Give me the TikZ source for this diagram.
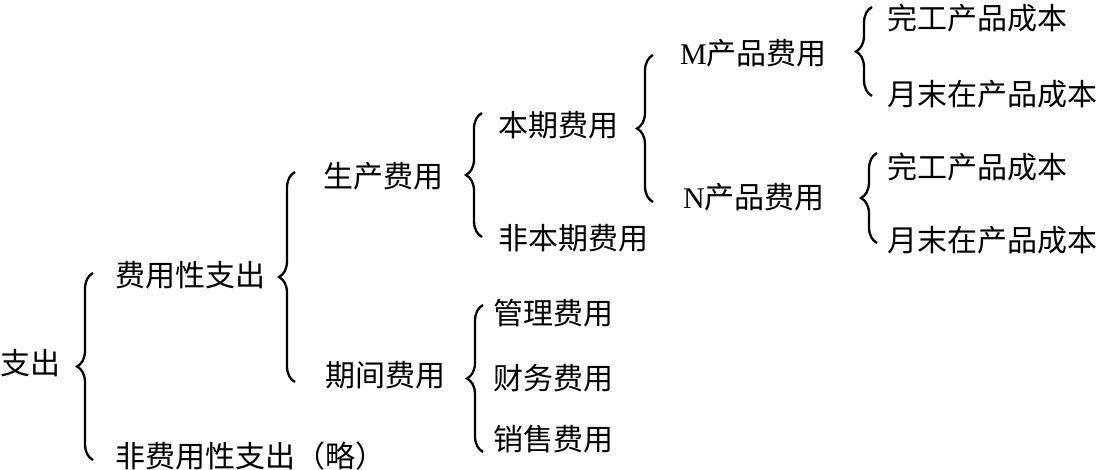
\documentclass[tikz,border=0pt]{standalone}
\usepackage{fontspec}
\setmainfont{Liberation Serif}
\newfontfamily\cjk{Noto Sans CJK SC}
\usetikzlibrary{decorations.pathreplacing}

\tikzset{
    item/.style={anchor=west, inner sep=0pt, font=\fontsize{30pt}{34pt}\selectfont\cjk},
    cbrace/.style={decorate, decoration={brace, amplitude=16pt}, line width=2.3pt},
}

\begin{document}
\begin{tikzpicture}[
            x=1pt, y=-1pt,
        ]
            \useasboundingbox (0, 0) rectangle (1100, 470);
            \node[item] (zc) at (0, 363) {支出};
            \node[item] (fyx) at (115, 275) {费用性支出};
            \node[item] (ffyx) at (115, 456) {非费用性支出（略）};
            \node[item] (sc) at (323, 176) {生产费用};
            \node[item] (qj) at (325, 375) {期间费用};
            \node[item] (bq) at (498, 125) {本期费用};
            \node[item] (fbq) at (498, 238) {非本期费用};
            \node[item] (gl) at (493, 313) {管理费用};
            \node[item] (cw) at (493, 378) {财务费用};
            \node[item] (xs) at (493, 439) {销售费用};
            \node[item] (mcp) at (680, 53) {{\rmfamily M}产品费用};
            \node[item] (ncp) at (683, 197) {{\rmfamily N}产品费用};
            \node[item] (mwg) at (887, 18) {完工产品成本};
            \node[item] (mym) at (887, 94) {月末在产品成本};
            \node[item] (nwg) at (887, 167) {完工产品成本};
            \node[item] (nym) at (887, 240) {月末在产品成本};
            \foreach \nm/\x/\ya/\yb in {zc/93/273/460, fyx/295/172/382, sc/482/113/237, qj/483/305/452, bq/653/55/202, mcp/872/7/96, ncp/877/153/243} {
                \coordinate (\nm-t) at (\x, \ya);
                \coordinate (\nm-b) at (\x, \yb);
                \draw[cbrace] (\nm-b) -- (\nm-t);
            }
        \end{tikzpicture}
\end{document}
